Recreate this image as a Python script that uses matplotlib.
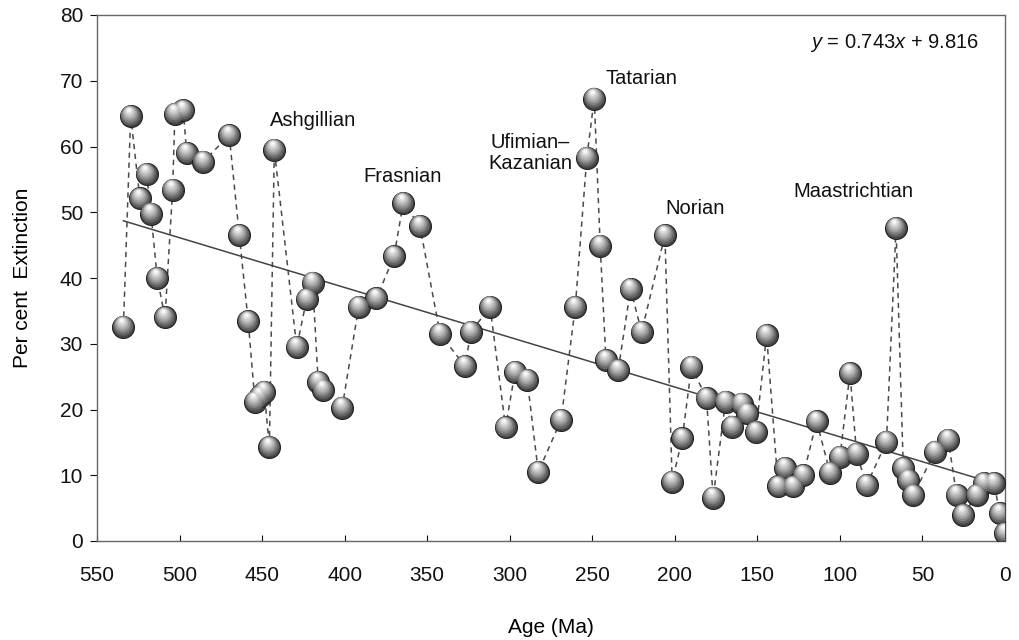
import numpy as np
import matplotlib
matplotlib.use("Agg")
import matplotlib.pyplot as plt
from matplotlib import transforms

plt.rcParams['font.family'] = ['Liberation Sans', 'DejaVu Sans']
plt.rcParams['mathtext.fontset'] = 'custom'
plt.rcParams['mathtext.rm'] = 'Liberation Sans'
plt.rcParams['mathtext.it'] = 'Liberation Sans:italic'

# Age (Ma) and per cent extinction
age = [534.0, 529.6, 524.0, 520.0, 517.3, 513.5, 508.8, 504.2, 502.8, 497.7,
       495.7, 485.6, 469.9, 463.8, 458.4, 454.3, 451.3, 448.7, 445.6, 442.6,
       429.0, 423.0, 419.4, 416.0, 413.0, 401.5, 391.5, 380.7, 370.1, 364.5,
       354.4, 342.2, 327.1, 323.5, 311.9, 302.5, 296.8, 289.4, 282.7, 268.9,
       260.3, 253.3, 248.8, 245.2, 241.7, 234.3, 226.8, 220.1, 206.0, 201.6,
       195.5, 189.9, 180.8, 176.8, 169.3, 165.1, 159.6, 156.2, 150.9, 144.4,
       137.4, 133.3, 128.3, 122.2, 114.1, 106.0, 100.0, 93.9, 89.9, 83.8,
       71.8, 66.0, 61.6, 58.6, 55.5, 42.4, 34.4, 29.3, 25.3, 17.2,
       12.8, 6.7, 3.1, 0.0]
extinction = [32.6, 64.6, 52.1, 55.8, 49.8, 40.0, 34.0, 53.4, 65.0, 65.5,
              59.0, 57.7, 61.7, 46.5, 33.4, 21.2, 22.0, 22.7, 14.3, 59.5,
              29.5, 36.8, 39.3, 24.2, 23.0, 20.3, 35.6, 36.9, 43.3, 51.4,
              47.9, 31.5, 26.6, 31.8, 35.6, 17.3, 25.7, 24.5, 10.5, 18.4,
              35.6, 58.3, 67.3, 44.9, 27.5, 26.0, 38.3, 31.8, 46.5, 9.0,
              15.6, 26.5, 21.7, 6.6, 21.2, 17.4, 20.9, 19.4, 16.6, 31.3,
              8.3, 11.1, 8.3, 10.0, 18.2, 10.4, 12.8, 25.5, 13.3, 8.5,
              15.1, 47.6, 11.1, 9.3, 7.0, 13.6, 15.4, 7.0, 4.0, 7.0,
              8.8, 8.8, 4.2, 1.2]

# Regression line (as drawn) end points: age and value
trend_age = [534.0, 3.0]
trend_val = [48.7, 8.5]

labels = ["Ashgillian", "Frasnian", "Ufimian\u2013\nKazanian", "Tatarian",
          "Norian", "Maastrichtian"]
label_age = [419.0, 364.7, 287.5, 220.0, 187.8, 92.1]
label_val = [63.9, 55.4, 59.0, 70.4, 50.6, 53.2]
equation = "$y$ = 0.743$x$ + 9.816"

xticks = [550, 500, 450, 400, 350, 300, 250, 200, 150, 100, 50, 0]
yticks = [0, 10, 20, 30, 40, 50, 60, 70, 80]

fig = plt.figure(figsize=(10.19, 6.40), dpi=100)
ax = fig.add_axes([97/1019, 99/640, (1005-97)/1019, (541-15)/640])

ax.plot(age, extinction, linestyle=(0, (3.5, 3)), color='#4a4a4a', lw=1.1, zorder=2)
ax.plot(trend_age, trend_val, color='#444444', lw=1.1, zorder=3)

# sphere-like markers via layered scatter (shaded highlight toward the top)
D = 15.8  # marker diameter in points
layers = [
    (1.00, '#454545', 0.00, 0.00),
    (0.90, '#636363', -0.01, 0.04),
    (0.78, '#818181', -0.03, 0.09),
    (0.66, '#9d9d9d', -0.04, 0.13),
    (0.54, '#b6b6b6', -0.05, 0.17),
    (0.42, '#cdcdcd', -0.06, 0.21),
    (0.30, '#e2e2e2', -0.07, 0.25),
    (0.18, '#f7f7f7', -0.07, 0.28),
]
for i, (f, c, dx, dy) in enumerate(layers):
    tr = transforms.offset_copy(ax.transData, fig=fig, x=dx * D, y=dy * D, units='points')
    ax.scatter(age, extinction, s=(f * D) ** 2, c=c,
               edgecolors='#222222' if i == 0 else 'none',
               linewidths=0.8 if i == 0 else 0,
               zorder=5 + i, transform=tr)

for t, a, v in zip(labels, label_age, label_val):
    ax.text(a, v, t, ha='center', va='center', fontsize=14.5, color='#111111',
            linespacing=1.1, zorder=20)

ax.text(16, 75.8, equation, ha='right', va='center', fontsize=14.5, color='#111111')

ax.set_xlim(550, 0)
ax.set_ylim(0, 80)
ax.set_xticks(xticks)
ax.set_yticks(yticks)
ax.tick_params(axis='x', direction='in', length=4, labelsize=15, pad=18, colors='#111111')
ax.tick_params(axis='y', direction='out', length=5, labelsize=15, pad=5, colors='#111111')
for sp in ax.spines.values():
    sp.set_linestyle((0, (1, 1)))
    sp.set_color('#666666')
    sp.set_linewidth(1.0)

ax.set_xlabel("Age (Ma)", fontsize=15, labelpad=24)
ax.set_ylabel("Per cent  Extinction", fontsize=15, labelpad=20)

fig.savefig("out.png", dpi=100)
